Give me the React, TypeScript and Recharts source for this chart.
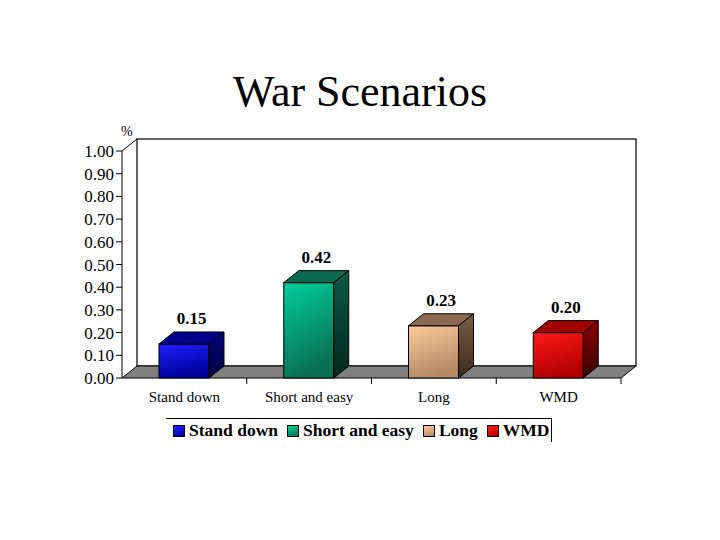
import { BarChart, Bar, XAxis, YAxis, ReferenceArea, LabelList } from 'recharts';

// Data
const categories = ['Stand down', 'Short and easy', 'Long', 'WMD'];
const values = [0.15, 0.42, 0.23, 0.2];
const yTicks = [0, 0.1, 0.2, 0.3, 0.4, 0.5, 0.6, 0.7, 0.8, 0.9, 1.0];

// 3D box colours per category: front gradient, top face, side gradient
const frontColors = [
  ['#2020ff', '#00009a'],
  ['#00d09c', '#0a7050'],
  ['#fccb9c', '#b48a66'],
  ['#ff1a1a', '#b00000'],
];
const topColors = ['#00008a', '#0b6a4e', '#8a6a50', '#a00000'];
const sideColors = [
  ['#000078', '#000040'],
  ['#0a5a42', '#03281c'],
  ['#7a5c44', '#3a2a1e'],
  ['#8a0000', '#3a0000'],
];

const DX = 15;
const DY = 12;
const FONT = "'Liberation Serif', 'Times New Roman', serif";

const data = categories.map((name, i) => ({ name, value: values[i] }));

function Box(props: any) {
  const { x, y, width: w, height: h, index } = props;
  const top = `${x},${y} ${x + DX},${y - DY} ${x + w + DX},${y - DY} ${x + w},${y}`;
  const side = `${x + w},${y} ${x + w + DX},${y - DY} ${x + w + DX},${y + h - DY} ${x + w},${y + h}`;
  return (
    <g>
      <rect x={x} y={y} width={w} height={h} fill={`url(#front${index})`} stroke="#000" strokeWidth={1} />
      <polygon points={top} fill={topColors[index]} stroke="#000" strokeWidth={1} />
      <polygon points={side} fill={`url(#side${index})`} stroke="#000" strokeWidth={1} />
    </g>
  );
}

// back wall, floor and category separators, drawn from the plot box
function Walls(props: any) {
  const { x, y, width: w, height: h } = props;
  const floor = `${x},${y + h} ${x + DX},${y + h - DY} ${x + w + DX},${y + h - DY} ${x + w},${y + h}`;
  const seps = categories.map((_, i) => x + ((i + 1) * w) / categories.length);
  return (
    <g>
      <rect x={x + DX} y={y - DY} width={w} height={h} fill="#fff" stroke="#000" strokeWidth={1.2} />
      <line x1={x} y1={y} x2={x + DX} y2={y - DY} stroke="#000" />
      <polygon points={floor} fill="#808080" stroke="#000" strokeWidth={1} />
      {seps.map((sx, i) => (
        <line key={i} x1={sx} y1={y + h} x2={sx} y2={y + h + 6} stroke="#000" />
      ))}
    </g>
  );
}

function ValueLabel(props: any) {
  const { x, y, width, value } = props;
  return (
    <text
      x={x + width / 2 + DX / 2}
      y={y - DY - 8}
      textAnchor="middle"
      fontFamily={FONT}
      fontWeight="bold"
      fontSize={17}
      fill="#000"
    >
      {Number(value).toFixed(2)}
    </text>
  );
}

export default function App() {
  return (
    <div style={{ position: 'absolute', left: 0, top: 0, width: 720, height: 540, background: '#fff', fontFamily: FONT }}>
      <div style={{ position: 'absolute', left: 0, width: 720, top: 66, textAlign: 'center', fontSize: 44, lineHeight: '52px' }}>
        War Scenarios
      </div>
      <div style={{ position: 'absolute', left: 121, top: 124, fontSize: 14 }}>%</div>

      <BarChart width={720} height={540} data={data} margin={{ top: 151, right: 99, bottom: 132, left: 0 }}>
        <defs>
          {frontColors.map((c, i) => (
            <linearGradient key={`f${i}`} id={`front${i}`} x1="0" y1="0" x2="0.3" y2="1">
              <stop offset="0%" stopColor={c[0]} />
              <stop offset="100%" stopColor={c[1]} />
            </linearGradient>
          ))}
          {sideColors.map((c, i) => (
            <linearGradient key={`s${i}`} id={`side${i}`} x1="0" y1="0" x2="0" y2="1">
              <stop offset="0%" stopColor={c[0]} />
              <stop offset="100%" stopColor={c[1]} />
            </linearGradient>
          ))}
        </defs>
        <ReferenceArea y1={0} y2={1} shape={<Walls />} ifOverflow="visible" />
        <XAxis
          dataKey="name"
          height={30}
          axisLine={false}
          tickLine={false}
          tickSize={0}
          tickMargin={13}
          tick={{ fill: '#000', fontSize: 15, fontFamily: FONT }}
        />
        <YAxis
          width={122}
          domain={[0, 1]}
          ticks={yTicks}
          interval={0}
          tickFormatter={(v: number) => v.toFixed(2)}
          axisLine={{ stroke: '#000' }}
          tickLine={{ stroke: '#000' }}
          tick={{ fill: '#000', fontSize: 17, fontFamily: FONT }}
        />
        <Bar dataKey="value" barSize={50} shape={<Box />} isAnimationActive={false}>
          <LabelList dataKey="value" content={<ValueLabel />} />
        </Bar>
      </BarChart>

      <div
        style={{
          position: 'absolute',
          left: 166,
          top: 418,
          width: 386,
          height: 24,
          borderTop: '1px solid #000',
          borderRight: '1px solid #000',
          display: 'flex',
          alignItems: 'center',
          gap: 9,
          paddingLeft: 7,
          boxSizing: 'border-box',
          fontWeight: 'bold',
          fontSize: 17.5,
          whiteSpace: 'nowrap',
        }}
      >
        {categories.map((c, i) => (
          <div key={c} style={{ display: 'flex', alignItems: 'center', gap: 4 }}>
            <span
              style={{
                display: 'inline-block',
                width: 10,
                height: 10,
                border: '1px solid #000',
                background: `linear-gradient(160deg, ${frontColors[i][0]}, ${frontColors[i][1]})`,
              }}
            />
            <span>{c}</span>
          </div>
        ))}
      </div>
    </div>
  );
}
